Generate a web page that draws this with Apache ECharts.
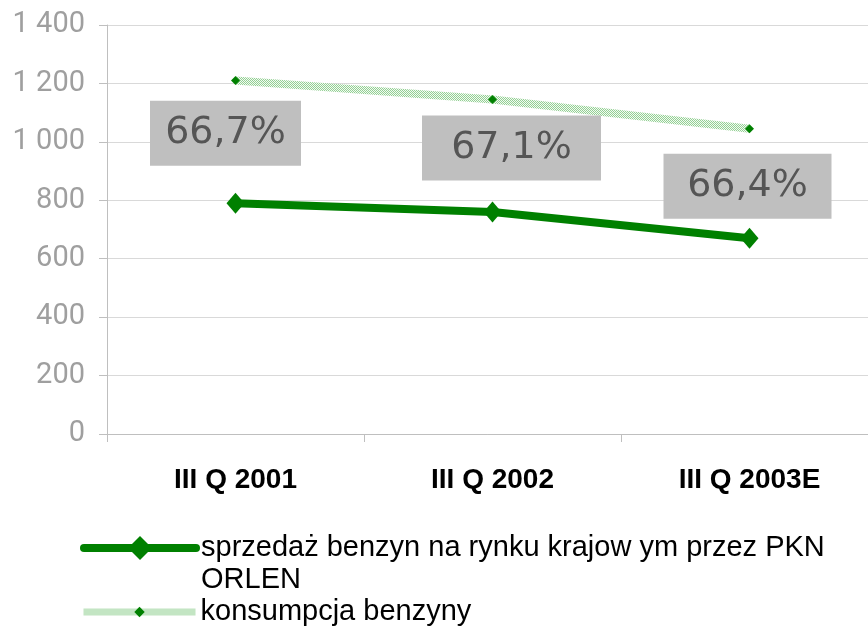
<!DOCTYPE html>
<html>
<head>
<meta charset="utf-8">
<script src="https://cdn.jsdelivr.net/npm/echarts@6/dist/echarts.min.js"></script>
<style>
  html, body { margin: 0; padding: 0; background: #fff; }
  #chart { width: 868px; height: 630px; }
</style>
</head>
<body>
<div id="chart"></div>
<script>
const categories = ['III Q 2001', 'III Q 2002', 'III Q 2003E']
const salesName = 'sprzedaż benzyn na rynku krajow ym przez PKN ORLEN'
const consumptionName = 'konsumpcja benzyny'
const salesValues = [790, 760, 670]
const consumptionValues = [1210, 1145, 1045]
const shareLabels = ['66,7%', '67,1%', '66,4%']
const yTicks = [0, 200, 400, 600, 800, 1000, 1200, 1400]

// label boxes: offset from the point, box width
const boxStyle = [
  { offset: [-10, -70], width: 151 },
  { offset: [19, -64], width: 179 },
  { offset: [-2, -52], width: 168 }
]

// hatched light green texture for the consumption line
function makePattern() {
  const c = document.createElement('canvas')
  c.width = 4
  c.height = 4
  const ctx = c.getContext('2d')
  ctx.fillStyle = '#f2faf2'
  ctx.fillRect(0, 0, 4, 4)
  ctx.fillStyle = '#94d094'
  ;[[0, 0], [2, 0], [1, 1], [3, 1], [0, 2], [2, 2], [1, 3], [3, 3]].forEach(p => ctx.fillRect(p[0], p[1], 1, 1))
  return c
}

const chart = echarts.init(document.getElementById('chart'))
const pattern = { image: makePattern(), repeat: 'repeat' }

const legendText = {
  fontFamily: 'Liberation Sans, Arial, sans-serif',
  fontSize: 29,
  lineHeight: 32,
  color: '#000'
}

chart.setOption({
  animation: false,
  backgroundColor: '#fff',
  grid: { left: 107, top: 25, right: -10, bottom: 196, outerBoundsMode: 'none' },
  legend: [
    {
      data: [salesName],
      orient: 'vertical',
      left: 80,
      top: 500,
      padding: 0,
      itemWidth: 112,
      itemHeight: 30,
      lineStyle: { width: 8, cap: 'round' },
      // blank first line keeps the icon level with the first text line
      formatter: () => '\nsprzedaż benzyn na rynku krajow ym przez PKN\nORLEN',
      textStyle: legendText
    },
    {
      data: [consumptionName],
      orient: 'vertical',
      left: 80,
      top: 596,
      padding: 0,
      itemWidth: 112,
      itemHeight: 13,
      lineStyle: { width: 7, color: pattern },
      textStyle: legendText
    }
  ],
  xAxis: {
    type: 'category',
    data: categories,
    boundaryGap: true,
    axisLine: { show: true, lineStyle: { color: '#bfbfbf', width: 1 } },
    axisTick: { show: true, length: 8, lineStyle: { color: '#bfbfbf' } },
    axisLabel: {
      margin: 32,
      color: '#000',
      fontFamily: 'Liberation Sans, Arial, sans-serif',
      fontWeight: 'bold',
      fontSize: 28
    }
  },
  yAxis: {
    type: 'value',
    min: 0,
    max: 1400,
    interval: 200,
    axisLine: { show: true, lineStyle: { color: '#bfbfbf', width: 1 } },
    axisTick: { show: true, length: 8, lineStyle: { color: '#bfbfbf' } },
    splitLine: { lineStyle: { color: '#d9d9d9', width: 1 } },
    axisLabel: {
      margin: 22,
      color: '#9f9f9f',
      fontFamily: 'Roboto, sans-serif',
      fontSize: 29,
      formatter: v => yTicks.includes(v) ? String(v).replace(/\B(?=(\d{3})+(?!\d))/g, ' ') : ''
    }
  },
  series: [
    {
      name: consumptionName,
      type: 'line',
      data: consumptionValues,
      symbol: 'diamond',
      symbolSize: 9,
      itemStyle: { color: '#008000' },
      lineStyle: { color: pattern, width: 8 },
      z: 2
    },
    {
      name: salesName,
      type: 'line',
      data: salesValues.map((v, i) => ({
        value: v,
        label: {
          show: true,
          position: 'inside',
          offset: boxStyle[i].offset,
          width: boxStyle[i].width,
          formatter: shareLabels[i]
        }
      })),
      symbol: 'diamond',
      symbolSize: [18, 21],
      itemStyle: { color: '#008000' },
      lineStyle: { color: '#008000', width: 8, cap: 'round' },
      label: {
        color: '#555',
        fontFamily: 'DejaVu Sans, sans-serif',
        fontSize: 38,
        lineHeight: 41,
        align: 'center',
        backgroundColor: '#bfbfbf',
        padding: [12, 0, 12, 0]
      },
      z: 3
    }
  ]
})
</script>
</body>
</html>
